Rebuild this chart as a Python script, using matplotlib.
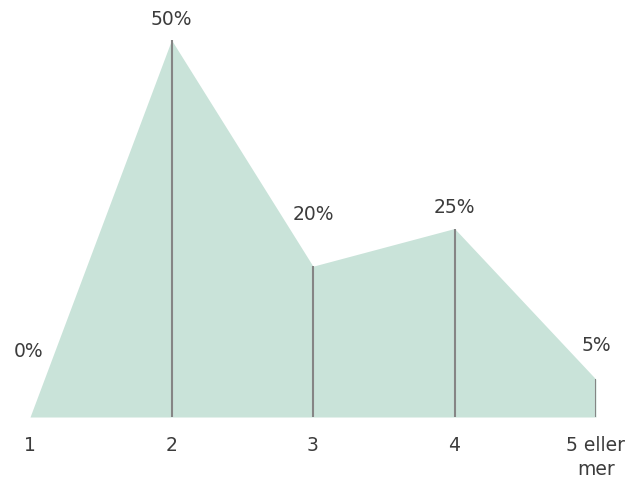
import numpy as np
import matplotlib.pyplot as plt

plt.rcParams['font.family'] = ['DejaVu Sans']

categories = ['1', '2', '3', '4', '5 eller\nmer']
values = [0, 50, 20, 25, 5]
labels = ['0%', '50%', '20%', '25%', '5%']

# label offsets (dx, dy) in points, as placed in the original
offsets = [(-1, 47), (0, 15), (0, 37), (0, 15), (0, 24)]

x = np.arange(1, len(values) + 1)

fig = plt.figure(figsize=(6.33, 4.84), dpi=100)
ax = fig.add_axes([30 / 633, 67 / 484, 566 / 633, 377 / 484])

ax.fill_between(x, 0, values, color='#c9e3d9', linewidth=0)
ax.vlines(x, 0, values, color='#858585', linewidth=1.5)

for xi, v, lab, (dx, dy) in zip(x, values, labels, offsets):
    ax.annotate(lab, (xi, v), xytext=(dx, dy), textcoords='offset points',
                ha='center', va='center', fontsize=13.5, color='#3c3c3c')

ax.set_xlim(1, 5)
ax.set_ylim(0, 50)
ax.set_xticks(x)
ax.set_xticklabels(categories, fontsize=13.5, color='#3c3c3c', linespacing=1.3)
ax.tick_params(axis='x', length=0, pad=14)
ax.set_yticks([])
for s in ax.spines.values():
    s.set_visible(False)

fig.savefig('out.png', dpi=100)
